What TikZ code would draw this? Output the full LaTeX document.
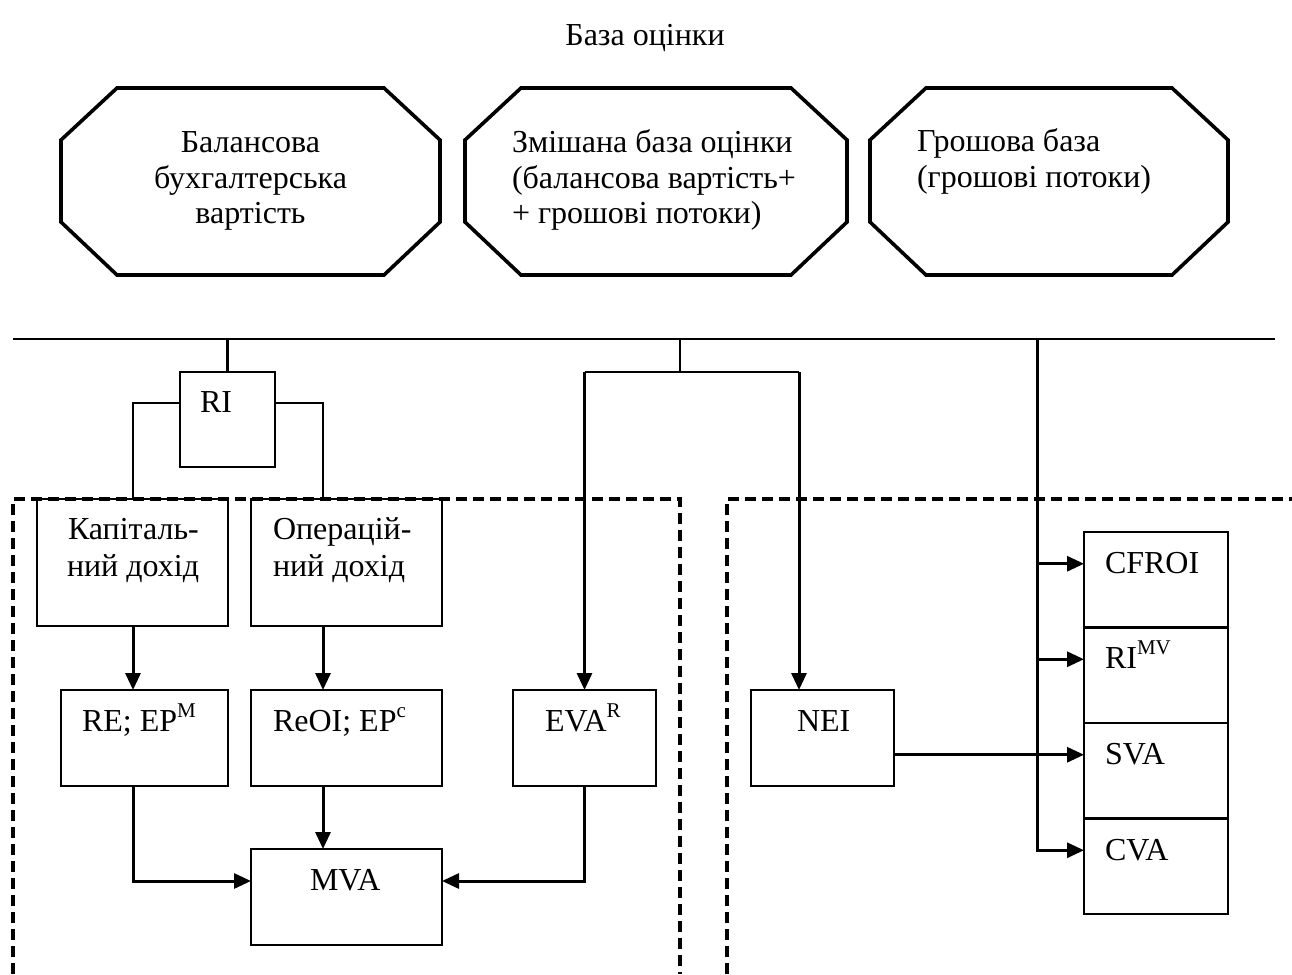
\documentclass[tikz,border=0pt]{standalone}
\usepackage{fontspec}
\setmainfont{Liberation Serif}
\usetikzlibrary{arrows.meta}

% raised, smaller index after a symbol
\newcommand\supidx[1]{\raisebox{13.5pt}{\fontsize{21}{21}\selectfont #1}}
% chamfered outline around a (undrawn) node
\newcommand\octoutline[1]{%
  \draw[octline] ([xshift=56pt]#1.north west) -- ([xshift=-56pt]#1.north east)
    -- ([yshift=-52pt]#1.north east) -- ([yshift=53pt]#1.south east)
    -- ([xshift=-56pt]#1.south east) -- ([xshift=56pt]#1.south west)
    -- ([yshift=53pt]#1.south west) -- ([yshift=-52pt]#1.north west) -- cycle;}

\begin{document}
\begin{tikzpicture}[x=1pt,y=-1pt,
  every node/.style={inner sep=0pt, outer sep=0pt},
  txt/.style={font=\fontsize{32}{36}\selectfont, anchor=base west},
  txtc/.style={txt, anchor=base},
  box/.style={draw, line width=2.5pt, rectangle},
  octarea/.style={rectangle, minimum height=187pt},
  octline/.style={line width=3.6pt, line join=miter},
  wire/.style={line width=2.5pt},
  flow/.style={line width=3pt, -{Triangle[length=17pt,width=15pt]}},
  frame/.style={line width=3.3pt, dash pattern=on 11pt off 6pt},
]
\path[use as bounding box] (0,0) rectangle (1292,974);

% heading
\node[txtc] (title) at (645,46) {База оцінки};

% the three valuation bases
\node[octarea, minimum width=379pt] (oct1) at (250.5,181.5) {};
\node[octarea, minimum width=382pt] (oct2) at (656,181.5) {};
\node[octarea, minimum width=358pt] (oct3) at (1049,181.5) {};
\octoutline{oct1}
\octoutline{oct2}
\octoutline{oct3}
\node[txtc] (o1a) at (250.5,152) {Балансова};
\node[txtc] (o1b) at (250.5,188) {бухгалтерська};
\node[txtc] (o1c) at (250.5,223) {вартість};
\node[txt] (o2a) at (512,152) {Змішана база оцінки};
\node[txt] (o2b) at (512,188) {(балансова вартість+};
\node[txt] (o2c) at (512,223) {+ грошові потоки)};
\node[txt] (o3a) at (917,151) {Грошова база};
\node[txt] (o3b) at (917,187) {(грошові потоки)};

% dashed groups
\draw[frame] (13,974) -- (13,499) -- (680,499) -- (680,974);
\draw[frame] (727,974) -- (727,499) -- (1292,499);

% boxes
\node[box, minimum width=95pt,  minimum height=95pt] (ri)   at (227.5,419.5) {};
\node[box, minimum width=191pt, minimum height=127pt] (kap)  at (132.5,562.5) {};
\node[box, minimum width=191pt, minimum height=127pt] (oper) at (346.5,562.5) {};
\node[box, minimum width=167pt, minimum height=96pt] (re)   at (144.5,738) {};
\node[box, minimum width=191pt, minimum height=96pt] (reoi) at (346.5,738) {};
\node[box, minimum width=143pt, minimum height=96pt] (eva)  at (584.5,738) {};
\node[box, minimum width=143pt, minimum height=96pt] (nei)  at (822.5,738) {};
\node[box, minimum width=191pt, minimum height=96pt] (mva)  at (346.5,897) {};
\node[box, minimum width=144pt, minimum height=95.5pt] (cfroi) at (1156,579.75) {};
\node[box, minimum width=144pt, minimum height=95.5pt] (rimv)  at (1156,675.25) {};
\node[box, minimum width=144pt, minimum height=95.5pt] (sva)   at (1156,770.75) {};
\node[box, minimum width=144pt, minimum height=95.5pt] (cva)   at (1156,866.25) {};

% box texts
\node[txt] (tri)   at (200,412) {RI};
\node[txt] (tkap1) at (68,539) {Капіталь-};
\node[txt] (tkap2) at (67,576) {ний дохід};
\node[txt] (top1)  at (273,539) {Операцій-};
\node[txt] (top2)  at (273,576) {ний дохід};
\node[txt] (tre)   at (82,731) {RE; EP\supidx{M}};
\node[txt] (treoi) at (273,731) {ReOI; EP\supidx{c}};
\node[txt] (teva)  at (545,731) {EVA\supidx{R}};
\node[txt] (tnei)  at (797,731) {NEI};
\node[txt] (tmva)  at (310,890) {MVA};
\node[txt] (tcf)   at (1105,573) {CFROI};
\node[txt] (trimv) at (1105,668) {RI\supidx{MV}};
\node[txt] (tsva)  at (1105,764) {SVA};
\node[txt] (tcva)  at (1105,860) {CVA};

% routing columns and rows
\coordinate (busL) at (13,339);
\coordinate (busR) at (1275,339);
\coordinate (colA) at (133,0);
\coordinate (colB) at (323,0);
\coordinate (colF) at (680,0);
\coordinate (colD) at (799,0);
\coordinate (colE) at (1037,0);
\coordinate (rowT) at (0,372);
\coordinate (rowM) at (0,881);
\coordinate (inC) at ([yshift=16pt]cfroi.west);
\coordinate (inR) at ([yshift=16pt]rimv.west);
\coordinate (inS) at ([yshift=16pt]sva.west);
\coordinate (inV) at ([yshift=16pt]cva.west);
\coordinate (riL) at ([yshift=16.5pt]ri.west);
\coordinate (riR) at ([yshift=16.5pt]ri.east);

% bus and branches
\draw[wire] (busL) -- (busR);
\draw[wire] (ri.north |- busL) -- (ri.north);
\draw[wire] (riL) -| (kap.north -| colA);
\draw[wire] (riR) -| (oper.north -| colB);
\draw[wire] (colF |- busL) -- (colF |- rowT);
\draw[wire] (eva.north |- rowT) -- (colD |- rowT);

% balance-sheet flows
\draw[flow] (kap.south -| colA) -- (re.north -| colA);
\draw[flow] (oper.south -| colB) -- (reoi.north -| colB);
\draw[flow] (reoi.south -| colB) -- (mva.north -| colB);
\draw[flow] (re.south -| colA) |- (mva.west |- rowM);
\draw[flow] (eva.south) |- (mva.east |- rowM);
\draw[flow] (eva.north |- rowT) -- (eva.north);
\draw[flow] (colD |- rowT) -- (nei.north -| colD);

% cash-flow flows
\draw[flow] (colE |- busL) |- (inV);
\draw[flow] (colE |- inC) -- (inC);
\draw[flow] (colE |- inR) -- (inR);
\draw[flow] (nei.east |- inS) -- (inS);
\end{tikzpicture}
\end{document}
